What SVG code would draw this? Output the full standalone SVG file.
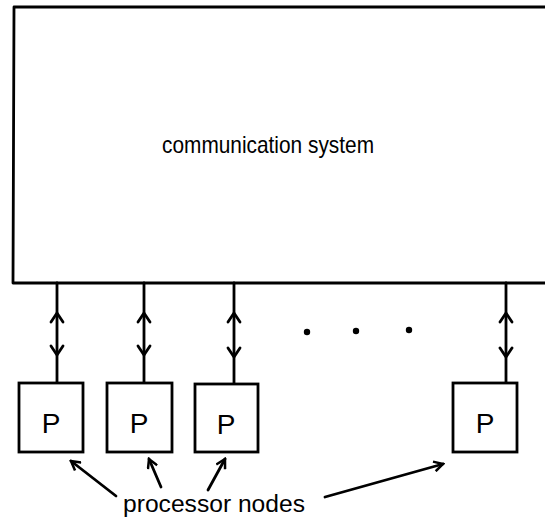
<svg xmlns="http://www.w3.org/2000/svg" width="545" height="523" viewBox="0 0 545 523">
<style>
.ln{stroke:#000;stroke-width:2.8;fill:none;stroke-linecap:round;stroke-linejoin:round}
.box{stroke:#000;stroke-width:2.8;fill:#fff}
.t{font-family:"Liberation Sans",Arial,sans-serif;fill:#000}
.p{font-size:28px;text-anchor:middle}
</style>
<defs>
<marker id="ah" viewBox="0 0 12 12" refX="10" refY="6" markerWidth="12" markerHeight="12" markerUnits="userSpaceOnUse" orient="auto">
<path d="M1,1 L10,6 L1,11" fill="none" stroke="#000" stroke-width="2.5"/>
</marker>
</defs>
<rect width="545" height="523" fill="#fff"/>
<g id="comm">
<path class="ln" d="M546,7 L14,7 L13,283 L546,283"/>
<text class="t" x="268" y="153" font-size="24" text-anchor="middle" textLength="212" lengthAdjust="spacingAndGlyphs">communication system</text>
</g>
<g id="connectors">
<path class="ln" d="M57,283 V383 M144,283 V383 M234,283 V383 M506,283 V383"/>
<path class="ln" d="M51,322 L57,313 L63,322 M51,346 L57,355 L63,346"/>
<path class="ln" d="M138,322 L144,313 L150,322 M138,346 L144,355 L150,346"/>
<path class="ln" d="M228,322 L234,313 L240,322 M228,348 L234,357 L240,348"/>
<path class="ln" d="M500,322 L506,313 L512,322 M500,348 L506,357 L512,348"/>
<path class="ln" d="M116,496 L71,461" marker-end="url(#ah)"/>
<path class="ln" d="M161,487 L149,459" marker-end="url(#ah)"/>
<path class="ln" d="M208,490 L225,459" marker-end="url(#ah)"/>
<path class="ln" d="M325,497 L443,464" marker-end="url(#ah)"/>
</g>
<g id="p1"><rect class="box" x="19" y="383" width="64" height="69"/><text class="t p" x="51" y="433">P</text></g>
<g id="p2"><rect class="box" x="107" y="383" width="65" height="69"/><text class="t p" x="139" y="433">P</text></g>
<g id="p3"><rect class="box" x="195" y="384" width="63" height="68"/><text class="t p" x="226" y="434">P</text></g>
<g id="p4"><rect class="box" x="453" y="383" width="64" height="69"/><text class="t p" x="485" y="433">P</text></g>
<g id="dots">
<circle cx="307" cy="332" r="3.2"/>
<circle cx="356" cy="331" r="3.2"/>
<circle cx="409" cy="330" r="3.2"/>
</g>
<g id="label">
<text class="t" x="214" y="512" font-size="23" text-anchor="middle" textLength="182" lengthAdjust="spacingAndGlyphs">processor nodes</text>
</g>
</svg>
